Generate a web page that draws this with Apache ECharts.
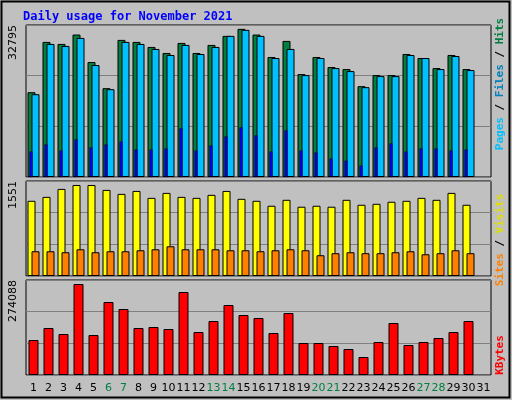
<!DOCTYPE html>
<html>
<head>
<meta charset="UTF-8">
<script src="https://cdn.jsdelivr.net/npm/echarts@6/dist/echarts.min.js"></script>
<style>
    html, body { margin: 0; padding: 0; background: #c0c0c0; }
    #chart { width: 512px; height: 400px; }
</style>
</head>
<body>
<div id="chart"></div>
<script>
    var days = ['1','2','3','4','5','6','7','8','9','10','11','12','13','14','15','16','17','18','19','20','21','22','23','24','25','26','27','28','29','30','31'];
    var weekend = ['6','7','13','14','20','21','27','28'];
    var hits = [18297,29145,28711,30735,24806,19165,29579,29145,28060,26758,28928,26758,28494,30447,31965,30735,25891,29362,22202,25891,23721,23287,19599,21985,21985,26541,25674,23504,26324,23287,null];
    var files = [17863,28711,28277,30013,24155,18948,29145,28711,27626,26324,28494,26541,28060,30447,31748,30447,25674,27626,21985,25674,23504,22853,19382,21768,21768,26324,25674,23287,26108,23070,null];
    var pages = [5496,7015,5713,8100,6364,7015,7666,5930,5930,6147,10486,5713,6798,8751,10703,8968,5496,10052,5713,5279,3978,3544,2459,6364,7232,5496,6147,6147,5713,5930,null];
    var visits = [1228,1292,1422,1486,1486,1406,1341,1389,1276,1357,1292,1276,1325,1389,1260,1228,1147,1244,1131,1147,1131,1244,1163,1179,1212,1228,1276,1244,1357,1163,null];
    var sites = [404,404,388,436,388,404,404,420,436,485,436,436,436,420,420,404,420,436,420,339,372,388,372,372,388,404,355,372,420,372,null];
    var kbytes = [100979,135600,118289,262544,115404,210612,190417,135600,138485,132715,239463,124059,155795,201957,173106,164451,121174,178876,92323,92323,83668,75013,51932,95208,150025,86553,95208,106749,124059,155795,null];
    var maxHits = 32795, maxVisits = 1551, maxKb = 274088;

    var chart = echarts.init(document.getElementById('chart'));
    var font = 'DejaVu Sans';
    var grids = [
        { left: 26, right: 21, top: 25, height: 152 },
        { left: 26, right: 21, top: 181, height: 95 },
        { left: 26, right: 21, top: 280, height: 95 }
    ];
    grids.forEach(function(g) {
        g.show = true; g.backgroundColor = '#c0c0c0'; g.borderColor = '#000'; g.borderWidth = 1;
    });

    function xAx(gi, showLabels) {
        return {
            type: 'category', gridIndex: gi, data: days,
            axisLine: { show: false }, axisTick: { show: false },
            axisLabel: {
                show: showLabels, interval: 0, margin: 8, fontFamily: font, fontSize: 11,
                color: function(v) { return weekend.indexOf(v) >= 0 ? '#008040' : '#000'; }
            }
        };
    }
    function yAx(gi, max, showLabels) {
        return {
            type: 'value', gridIndex: gi, min: 0, max: max, interval: max / 3,
            axisLine: { show: false }, axisTick: { show: false },
            splitLine: { lineStyle: { color: '#808080', width: 1 } },
            axisLabel: {
                show: showLabels, rotate: 90, align: 'right', margin: 7, fontFamily: font, fontSize: 11, color: '#000',
                formatter: function(v) { return Math.abs(v - max) < 1 ? String(max) : ''; }
            }
        };
    }
    var edge = { borderColor: '#000', borderWidth: 1 };
    var mono = { fontFamily: 'DejaVu Sans Mono', fontWeight: 'bold', fontSize: 11 };
    function rt(color) { return Object.assign({ fill: color }, mono); }

    chart.setOption({
        backgroundColor: '#c0c0c0',
        animation: false,
        title: {
            text: 'Daily usage for November 2021', left: 18, top: 6,
            textStyle: { color: '#0000ff', fontFamily: 'DejaVu Sans Mono', fontWeight: 'bold', fontSize: 12 }
        },
        grid: grids,
        xAxis: [xAx(0, false), xAx(0, false), xAx(1, false), xAx(2, true)],
        yAxis: [yAx(0, maxHits, true), yAx(0, maxHits, false), yAx(1, maxVisits, true), yAx(2, maxKb, true)],
        series: [
            { type: 'bar', name: 'Hits', xAxisIndex: 0, yAxisIndex: 0, data: hits, barWidth: 8, barGap: '-50%',
              itemStyle: Object.assign({ color: '#008040' }, edge) },
            { type: 'bar', name: 'Files', xAxisIndex: 0, yAxisIndex: 0, data: files, barWidth: 8,
              itemStyle: Object.assign({ color: '#00c0ff' }, edge) },
            { type: 'bar', name: 'Pages', xAxisIndex: 1, yAxisIndex: 1, data: pages, barWidth: 3, barGap: 0, z: 5,
              itemStyle: { color: '#0000ff', borderColor: '#000', borderWidth: 0.5 } },
            { type: 'bar', name: 'spacer', xAxisIndex: 1, yAxisIndex: 1, data: [], barWidth: 5, silent: true },
            { type: 'bar', name: 'Visits', xAxisIndex: 2, yAxisIndex: 2, data: visits, barWidth: 8, barGap: '-50%',
              itemStyle: Object.assign({ color: '#ffff00' }, edge) },
            { type: 'bar', name: 'Sites', xAxisIndex: 2, yAxisIndex: 2, data: sites, barWidth: 8,
              itemStyle: Object.assign({ color: '#ff8000' }, edge) },
            { type: 'bar', name: 'KBytes', xAxisIndex: 3, yAxisIndex: 3, data: kbytes, barWidth: 10,
              itemStyle: Object.assign({ color: '#ff0000' }, edge) }
        ],
        graphic: [
            { type: 'rect', shape: { x: 1.5, y: 1.5, width: 508, height: 396 }, silent: true,
              style: { fill: 'none', stroke: '#000', lineWidth: 2 } },
            { type: 'text', x: 500, y: 84, rotation: Math.PI / 2,
              style: { text: '{p|Pages} {s|/} {f|Files} {s|/} {h|Hits}', align: 'center', verticalAlign: 'middle',
                font: 'bold 11px "DejaVu Sans Mono"',
                rich: { p: rt('#00c0ff'), f: rt('#0080c0'), h: rt('#008040'), s: rt('#000') } } },
            { type: 'text', x: 500, y: 240, rotation: Math.PI / 2,
              style: { text: '{a|Sites} {s|/} {b|Visits}', align: 'center', verticalAlign: 'middle',
                font: 'bold 11px "DejaVu Sans Mono"',
                rich: { a: rt('#ff8000'), b: rt('#e0e000'), s: rt('#000') } } },
            { type: 'text', x: 500, y: 355, rotation: Math.PI / 2,
              style: { text: 'KBytes', align: 'center', verticalAlign: 'middle', fill: '#ff0000',
                font: 'bold 11px "DejaVu Sans Mono"' } }
        ]
    });
</script>
</body>
</html>
